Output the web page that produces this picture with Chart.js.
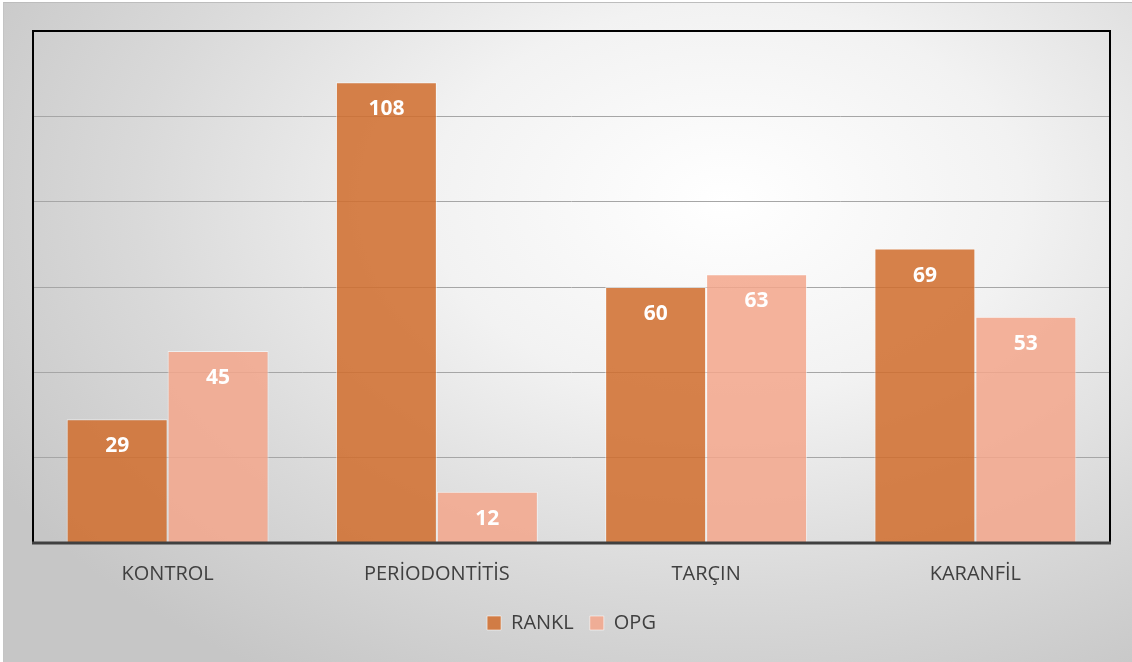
<!DOCTYPE html>
<html>
<head>
<meta charset="utf-8">
<script src="https://cdn.jsdelivr.net/npm/chart.js@4.4.1/dist/chart.umd.min.js"></script>
<style>
    html, body { margin: 0; padding: 0; background: #fff; }
    #wrap {
        position: absolute; left: 3px; top: 2px; width: 1129px; height: 660px;
        border-top: 1px solid #bdbdbd; border-left: 1px solid #c4c4c4;
        box-sizing: border-box;
        background: radial-gradient(ellipse 75% 85% at 64% 30%, #ffffff 0%, #f2f2f2 35%, #d9d9d9 70%, #c6c6c6 100%);
    }
</style>
</head>
<body>
<div id="wrap"><canvas id="BarChart"></canvas></div>
<script>
const CATEGORIES = ['KONTROL', 'PERİODONTİTİS', 'TARÇIN', 'KARANFİL'];
const RANKL_VALUES = [29, 108, 60, 69];
const OPG_VALUES = [45, 12, 63, 53];
const Y_MAX = 120;
const Y_STEP = 20;

const FONT = "'Open Sans', 'DejaVu Sans', sans-serif";

// white bold numbers just under the top of each bar
const barLabels = {
    id: 'barLabels',
    afterDatasetsDraw(chart) {
        let ctx = chart.ctx;
        ctx.save();
        ctx.fillStyle = '#ffffff';
        ctx.font = 'bold 21px ' + FONT;
        ctx.textAlign = 'center';
        ctx.textBaseline = 'middle';
        chart.data.datasets.forEach((ds, i) => {
            chart.getDatasetMeta(i).data.forEach((bar, j) => {
                ctx.fillText(ds.data[j], bar.x, bar.y + 27);
            });
        });
        ctx.restore();
    }
};

// frame round the plot area
const plotFrame = {
    id: 'plotFrame',
    afterDraw(chart) {
        let a = chart.chartArea;
        let ctx = chart.ctx;
        ctx.save();
        ctx.strokeStyle = '#000000';
        ctx.lineWidth = 2;
        ctx.beginPath();
        ctx.moveTo(a.left, a.bottom);
        ctx.lineTo(a.left, a.top);
        ctx.lineTo(a.right, a.top);
        ctx.lineTo(a.right, a.bottom);
        ctx.stroke();
        ctx.strokeStyle = '#404040';
        ctx.lineWidth = 3;
        ctx.beginPath();
        ctx.moveTo(a.left - 1, a.bottom);
        ctx.lineTo(a.right + 1, a.bottom);
        ctx.stroke();
        ctx.restore();
    }
};

window.onload = function(){
    let ctx = document.getElementById('BarChart').getContext('2d');
    window.BChart = new Chart(ctx, {
        type: 'bar',
        data: {
            labels: CATEGORIES,
            datasets: [
            {
                label: 'RANKL',
                data: RANKL_VALUES,
                backgroundColor: 'rgba(208, 110, 45, 0.86)',
                borderColor: 'rgba(255, 255, 255, 0.55)',
                borderWidth: 1,
            },
            {
                label: 'OPG',
                data: OPG_VALUES,
                backgroundColor: 'rgba(243, 166, 140, 0.86)',
                borderColor: 'rgba(255, 255, 255, 0.55)',
                borderWidth: 1,
            }]
        },
        options: {
            responsive: true,
            maintainAspectRatio: false,
            animation: false,
            datasets: { bar: { categoryPercentage: 0.75, barPercentage: 1.0 } },
            layout: { padding: { left: 29, right: 22, top: 28, bottom: 19 } },
            plugins: {
                legend: {
                    position: 'bottom',
                    labels: {
                        font: { family: FONT, size: 20 },
                        color: '#404040',
                        boxWidth: 14,
                        boxHeight: 14,
                        padding: 16,
                    }
                },
                tooltip: { enabled: false }
            },
            scales: {
                y: {
                    min: 0,
                    max: Y_MAX,
                    ticks: { display: false, stepSize: Y_STEP },
                    grid: { color: '#a6a6a6', lineWidth: 1, drawTicks: false },
                    border: { display: false }
                },
                x: {
                    grid: { display: false },
                    border: { display: false },
                    ticks: {
                        color: '#404040',
                        font: { family: FONT, size: 20 },
                        padding: 11,
                    }
                }
            }
        },
        plugins: [barLabels, plotFrame]
    });
};
</script>
</body>
</html>
